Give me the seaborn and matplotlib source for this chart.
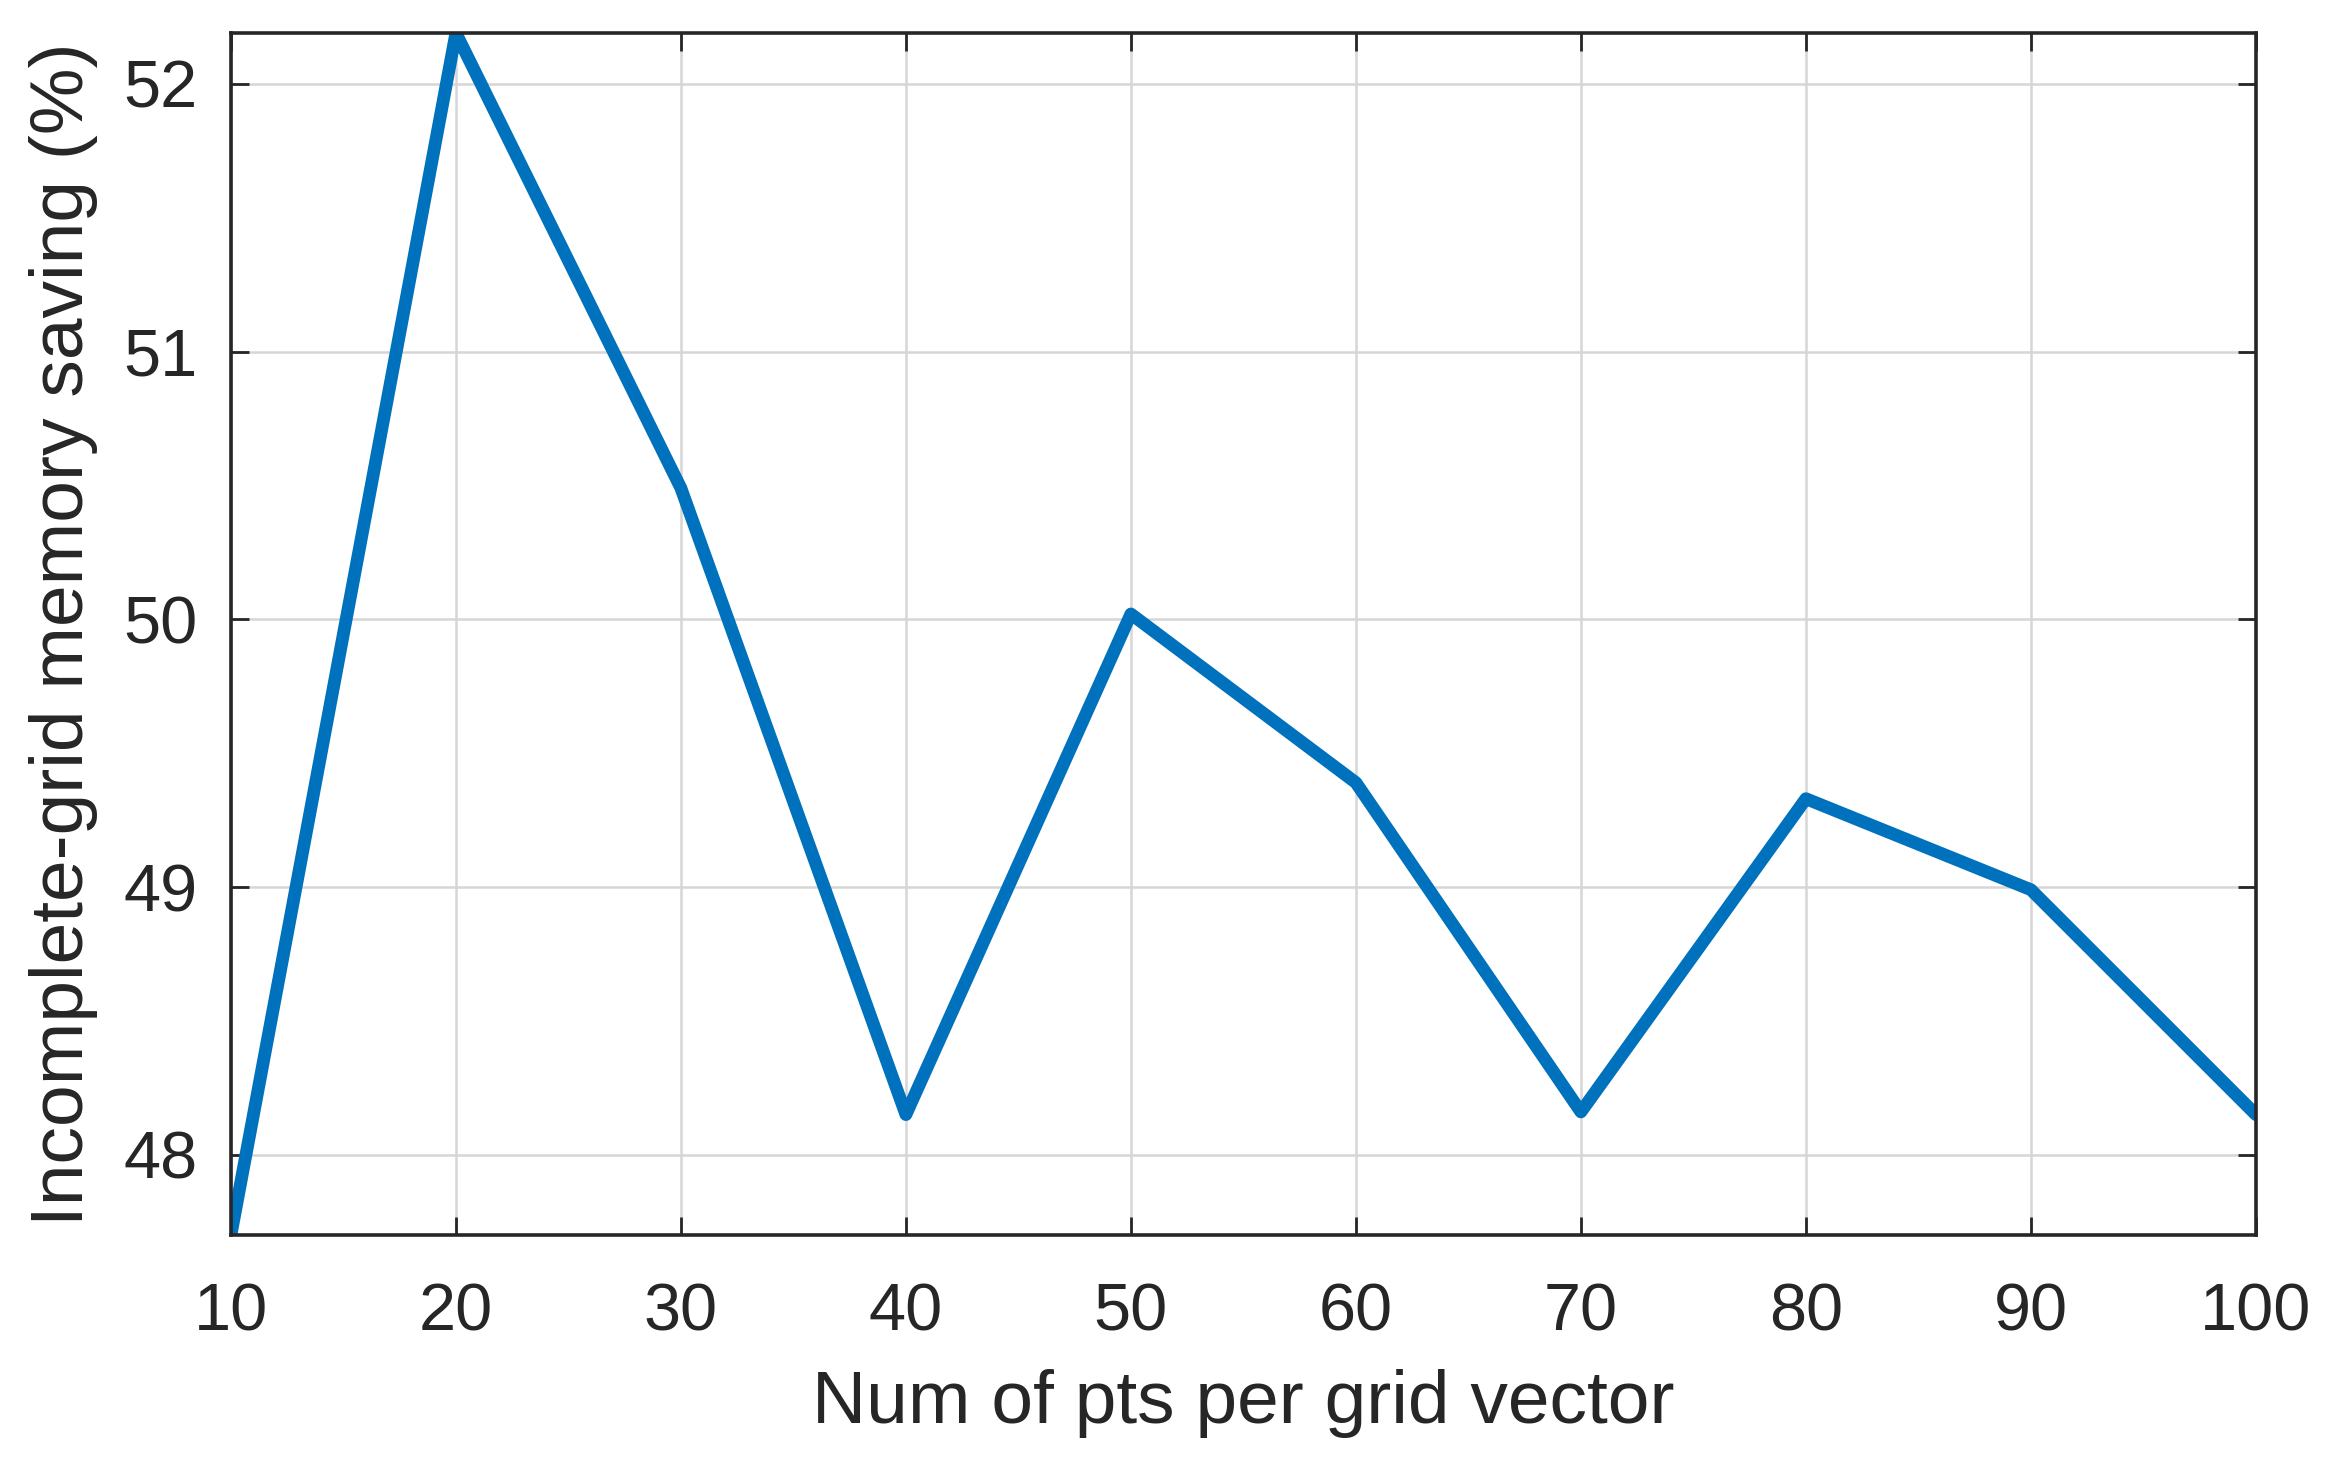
import pandas as pd
import seaborn as sns
from matplotlib import pyplot as plt

# data
pts = [10, 20, 30, 40, 50, 60, 70, 80, 90, 100]
saving = [47.70, 52.19, 50.49, 48.15, 50.02, 49.39, 48.16, 49.33, 48.99, 48.15]

df = pd.DataFrame({'pts': pts, 'saving': saving})

sns.set_theme(style='whitegrid')
plt.rcParams['font.family'] = ['Liberation Sans', 'DejaVu Sans']

fig = plt.figure(figsize=(11.65, 7.315), dpi=200)
ax = fig.add_axes([0.0991, 0.1558, 0.8691, 0.8216])

sns.lineplot(data=df, x='pts', y='saving', color='#0072BD', linewidth=4.6, ax=ax)

ax.set_xlim(10, 100)
ax.set_ylim(min(saving), max(saving))
ax.set_xticks(pts)
ax.set_yticks([48, 49, 50, 51, 52])

ax.grid(True, color='#d6d6d6', linewidth=0.9)
for s in ax.spines.values():
    s.set_color('#262626')
    s.set_linewidth(1.3)
ax.tick_params(direction='in', length=6.5, width=1.0, colors='#262626',
               labelsize=24, top=True, right=True, bottom=True, left=True, pad=17)
ax.tick_params(axis='y', pad=12)

ax.set_xlabel('Num of pts per grid vector', fontsize=27, color='#262626', labelpad=9)
ax.set_ylabel('Incomplete-grid memory saving (%)', fontsize=27, color='#262626', labelpad=9)

fig.savefig('out.png', dpi=200)
